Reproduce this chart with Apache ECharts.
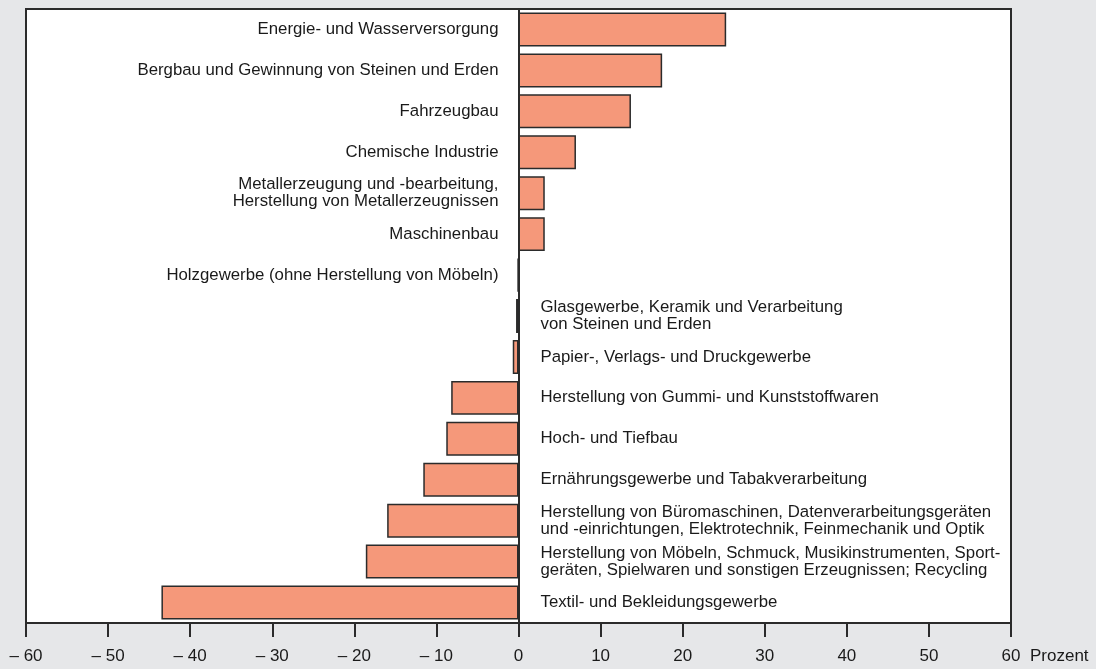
<!DOCTYPE html>
<html><head><meta charset="utf-8">
<script src="https://cdn.jsdelivr.net/npm/echarts@6/dist/echarts.min.js"></script>
<style>html,body{margin:0;padding:0;background:#e6e7e9;}#c{width:1096px;height:669px;}</style>
</head><body><div id="c"></div>
<script>
const categories = [
  'Energie- und Wasserversorgung',
  'Bergbau und Gewinnung von Steinen und Erden',
  'Fahrzeugbau',
  'Chemische Industrie',
  'Metallerzeugung und -bearbeitung,\nHerstellung von Metallerzeugnissen',
  'Maschinenbau',
  'Holzgewerbe (ohne Herstellung von Möbeln)',
  'Glasgewerbe, Keramik und Verarbeitung\nvon Steinen und Erden',
  'Papier-, Verlags- und Druckgewerbe',
  'Herstellung von Gummi- und Kunststoffwaren',
  'Hoch- und Tiefbau',
  'Ernährungsgewerbe und Tabakverarbeitung',
  'Herstellung von Büromaschinen, Datenverarbeitungsgeräten\nund -einrichtungen, Elektrotechnik, Feinmechanik und Optik',
  'Herstellung von Möbeln, Schmuck, Musikinstrumenten, Sport-\ngeräten, Spielwaren und sonstigen Erzeugnissen; Recycling',
  'Textil- und Bekleidungsgewerbe'
];
const values = [25.3, 17.5, 13.7, 7.0, 3.2, 3.2, -0.1, -0.3, -0.7, -8.2, -8.8, -11.6, -16.0, -18.6, -43.5];
// which side of the zero line each label sits on
const labelSide = ['left','left','left','left','left','left','left','right','right','right','right','right','right','right','right'];
const tickValues = [-60, -50, -40, -30, -20, -10, 0, 10, 20, 30, 40, 50, 60];
const axisUnit = 'Prozent';

const FONT = 'Liberation Sans, Arial, sans-serif';
const chart = echarts.init(document.getElementById('c'));
const labelData = categories.map((c, i) => ({
  value: [0, c],
  label: {
    show: true,
    position: labelSide[i],
    distance: labelSide[i] === 'left' ? 20 : 22,
    align: labelSide[i] === 'left' ? 'right' : 'left',
    color: '#1a1a1a', fontFamily: FONT, fontSize: 16.8, lineHeight: 17, opacity: 1,
    formatter: c
  }
}));
chart.setOption({
  backgroundColor: '#e6e7e9',
  animation: false,
  grid: { left: 26, right: 85, top: 9, bottom: 46, show: true, backgroundColor: '#ffffff', borderColor: '#2b2b2b', borderWidth: 2 },
  xAxis: {
    type: 'value', min: -60, max: 60, interval: 10,
    splitLine: { show: false },
    axisLine: { show: true, onZero: false, lineStyle: { color: '#2b2b2b', width: 2 } },
    axisTick: { show: true, length: 14, lineStyle: { color: '#2b2b2b', width: 2 } },
    axisLabel: {
      color: '#1a1a1a', fontFamily: FONT, fontSize: 17, margin: 25,
      formatter: v => v < 0 ? '\u2013 ' + Math.abs(v) : String(v)
    }
  },
  yAxis: {
    type: 'category', data: categories, inverse: true,
    axisLine: { show: true, onZero: true, lineStyle: { color: '#2b2b2b', width: 2 } },
    axisTick: { show: false }, axisLabel: { show: false }, splitLine: { show: false }
  },
  graphic: [{
    type: 'text', left: 1030, top: 648,
    style: { text: axisUnit, fill: '#1a1a1a', font: '17px "Liberation Sans", Arial, sans-serif' }
  }],
  series: [
    {
      type: 'bar', data: values, barCategoryGap: '17%',
      itemStyle: { color: '#f5987a', borderColor: '#2b2b2b', borderWidth: 1.5 },
      z: 2
    },
    {
      type: 'scatter', data: labelData, symbolSize: 0, silent: true,
      itemStyle: { opacity: 1 },
      z: 3
    }
  ]
});
</script>
</body></html>
